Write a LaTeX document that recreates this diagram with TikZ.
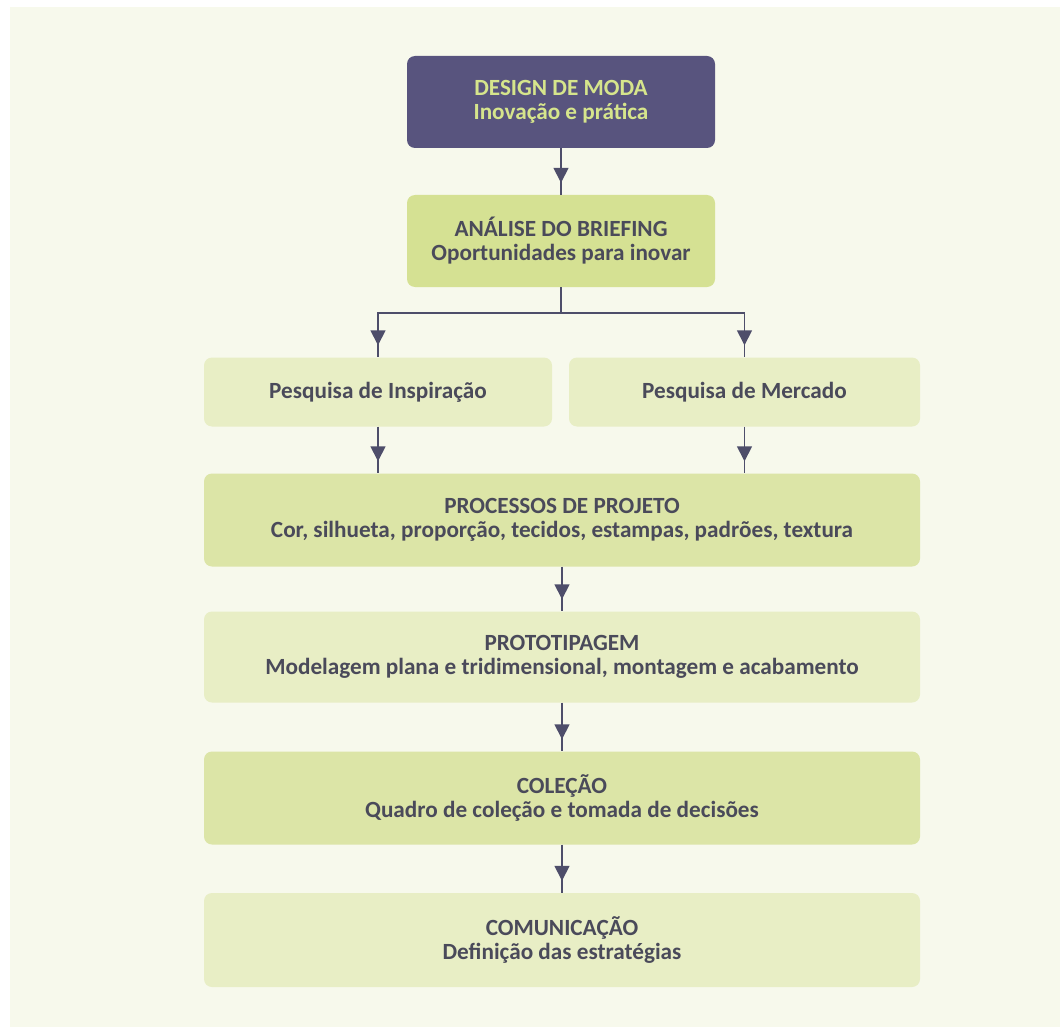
\documentclass[tikz,border=0pt]{standalone}
\usepackage{fontspec}
\setmainfont{Carlito}
\usetikzlibrary{arrows.meta, decorations.markings}

\definecolor{bgcream}{HTML}{F7F9EC}
\definecolor{deeppurple}{HTML}{58547E}
\definecolor{limetext}{HTML}{D6E58C}
\definecolor{boxtext}{HTML}{4A4A5A}
\definecolor{linkgray}{HTML}{4E4E6A}
\definecolor{greenA}{HTML}{D5E193}
\definecolor{greenB}{HTML}{DCE5A7}
\definecolor{greenC}{HTML}{E8EEC5}

\begin{document}
\begin{tikzpicture}[x=1pt, y=-1pt,
        box/.style = {rounded corners=8pt, inner sep=0pt, align=center,
                      font=\fontsize{23.2}{24}\selectfont\bfseries, text=boxtext},
        link/.style = {color=linkgray, line width=1.5pt},
        flow/.style = {link, postaction={decorate}, decoration={markings,
                       mark=at position -12pt with {\arrow{Triangle[width=15pt, length=15pt]}}}}]
    \useasboundingbox (0,0) rectangle (1060,1027);
    \fill[bgcream] (10,7) rectangle (1060,1027);

    \node[box, fill=deeppurple, text=limetext, minimum width=308pt, minimum height=92pt]
        (moda) at (561,102) {DESIGN DE MODA\\Inovação e prática};
    \node[box, fill=greenA, minimum width=308pt, minimum height=92pt]
        (briefing) at (561,241) {ANÁLISE DO BRIEFING\\Oportunidades para inovar};
    \node[box, fill=greenC, minimum width=348pt, minimum height=69pt]
        (inspiracao) at (378,392) {Pesquisa de Inspiração};
    \node[box, fill=greenC, minimum width=351pt, minimum height=69pt]
        (mercado) at (744.5,392) {Pesquisa de Mercado};
    \node[box, fill=greenB, minimum width=716pt, minimum height=93pt]
        (processos) at (562,520) {PROCESSOS DE PROJETO\\Cor, silhueta, proporção, tecidos, estampas, padrões, textura};
    \node[box, fill=greenC, minimum width=716pt, minimum height=91pt]
        (prototipo) at (562,657) {PROTOTIPAGEM\\Modelagem plana e tridimensional, montagem e acabamento};
    \node[box, fill=greenB, minimum width=716pt, minimum height=93pt]
        (colecao) at (562,798) {COLEÇÃO\\Quadro de coleção e tomada de decisões};
    \node[box, fill=greenC, minimum width=716pt, minimum height=94pt]
        (comunicacao) at (562,940) {COMUNICAÇÃO\\Definição das estratégias};

    % connectors
    \draw[flow] (moda) -- (briefing);
    \draw[link] (briefing.south) -- ++(0,26) coordinate (split);
    \draw[flow] (split) -| (inspiracao);
    \draw[flow] (split) -| (mercado);
    \draw[flow] (inspiracao) -- (inspiracao |- processos.north);
    \draw[flow] (mercado) -- (mercado |- processos.north);
    \draw[flow] (processos) -- (prototipo);
    \draw[flow] (prototipo) -- (colecao);
    \draw[flow] (colecao) -- (comunicacao);
\end{tikzpicture}
\end{document}
